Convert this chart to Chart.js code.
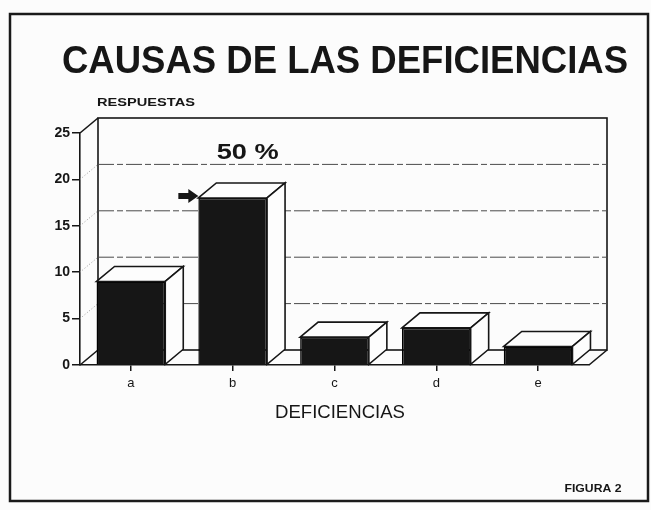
<!DOCTYPE html>
<html>
<head>
<meta charset="utf-8">
<script src="https://cdn.jsdelivr.net/npm/chart.js@4.4.1/dist/chart.umd.min.js"></script>
<style>
  html, body { margin: 0; padding: 0; background: #fcfcfc; }
  #wrap { width: 651px; height: 510px; }
</style>
</head>
<body>
<div id="wrap"><canvas id="chart" width="651" height="510"></canvas></div>
<script>
// datos
var categories = ['a', 'b', 'c', 'd', 'e'];
var responses = [9, 18, 3, 4, 2];
var yTicks = [0, 5, 10, 15, 20, 25];
var highlightText = '50 %';

var FONT = "'Liberation Sans', Arial, Helvetica, sans-serif";
var INK = '#161616';
var DX = 18, DY = -15; // profundidad del efecto 3D

// escribe un texto estirado a un ancho dado (la tipografia del original es mas ancha)
function wideText(ctx, text, cx, y, w) {
  var m = ctx.measureText(text).width;
  ctx.save();
  ctx.translate(cx, y);
  ctx.scale(w / m, 1);
  ctx.textAlign = 'center';
  ctx.fillText(text, 0, 0);
  ctx.restore();
}

function line(ctx, x1, y1, x2, y2) {
  ctx.beginPath();
  ctx.moveTo(x1, y1);
  ctx.lineTo(x2, y2);
  ctx.stroke();
}

var box3d = {
  id: 'box3d',
  beforeDatasetsDraw: function(chart) {
    var ctx = chart.ctx;
    var a = chart.chartArea;
    var ys = chart.scales.y;
    ctx.save();
    ctx.strokeStyle = INK;
    ctx.lineWidth = 1.6;
    // pared del fondo
    var top = ys.getPixelForValue(25);
    var bot = ys.getPixelForValue(0);
    ctx.strokeRect(a.left + DX, top + DY, a.right - a.left, bot - top);
    // aristas laterales
    line(ctx, a.left, top, a.left + DX, top + DY);
    line(ctx, a.left, bot, a.left + DX, bot + DY);
    line(ctx, a.right, bot, a.right + DX, bot + DY);
    // lineas de la cuadricula en el fondo
    yTicks.forEach(function(v) {
      if (v === 0 || v === 25) return;
      var y = ys.getPixelForValue(v);
      ctx.strokeStyle = '#4a4a4a';
      ctx.lineWidth = 1;
      ctx.setLineDash([16, 3, 6, 3]);
      line(ctx, a.left + DX, y + DY, a.right + DX, y + DY);
      ctx.strokeStyle = '#999';
      ctx.setLineDash([1, 2]);
      line(ctx, a.left, y, a.left + DX, y + DY);
    });
    ctx.restore();
  },
  afterDatasetsDraw: function(chart) {
    var ctx = chart.ctx;
    var meta = chart.getDatasetMeta(0);
    ctx.save();
    ctx.strokeStyle = INK;
    ctx.lineWidth = 1.6;
    ctx.fillStyle = '#fdfdfd';
    meta.data.forEach(function(el) {
      var p = el.getProps(['x', 'y', 'base', 'width'], true);
      var l = p.x - p.width / 2, r = p.x + p.width / 2;
      // cara superior
      ctx.beginPath();
      ctx.moveTo(l, p.y);
      ctx.lineTo(l + DX, p.y + DY);
      ctx.lineTo(r + DX, p.y + DY);
      ctx.lineTo(r, p.y);
      ctx.closePath();
      ctx.fill();
      ctx.stroke();
      // cara lateral
      ctx.beginPath();
      ctx.moveTo(r, p.y);
      ctx.lineTo(r + DX, p.y + DY);
      ctx.lineTo(r + DX, p.base + DY);
      ctx.lineTo(r, p.base);
      ctx.closePath();
      ctx.fill();
      ctx.stroke();
    });
    ctx.restore();
  },
  afterDraw: function(chart) {
    var ctx = chart.ctx;
    ctx.save();
    // marco
    ctx.strokeStyle = '#1a1a1a';
    ctx.lineWidth = 2.5;
    ctx.strokeRect(10, 14, 638, 487);
    ctx.fillStyle = INK;
    ctx.textBaseline = 'alphabetic';
    // titulo
    ctx.font = 'bold 38px ' + FONT;
    wideText(ctx, 'CAUSAS DE LAS DEFICIENCIAS', 345, 73, 566);
    // titulo eje y
    ctx.font = 'bold 11px ' + FONT;
    wideText(ctx, 'RESPUESTAS', 146, 106, 98);
    // titulo eje x
    ctx.font = '18px ' + FONT;
    wideText(ctx, 'DEFICIENCIAS', 340, 418, 130);
    // pie
    ctx.font = 'bold 11px ' + FONT;
    wideText(ctx, 'FIGURA 2', 593, 492, 57);
    // anotacion de la barra b
    var bar = chart.getDatasetMeta(0).data[1];
    var b = bar.getProps(['x', 'y', 'width'], true);
    ctx.font = 'bold 22px ' + FONT;
    wideText(ctx, highlightText, b.x + 15, b.y - 39, 62);
    // flecha
    var tipX = b.x - b.width / 2, tipY = b.y - 2;
    ctx.beginPath();
    ctx.moveTo(tipX, tipY);
    ctx.lineTo(tipX - 10, tipY - 7);
    ctx.lineTo(tipX - 10, tipY - 3);
    ctx.lineTo(tipX - 20, tipY - 3);
    ctx.lineTo(tipX - 20, tipY + 3);
    ctx.lineTo(tipX - 10, tipY + 3);
    ctx.lineTo(tipX - 10, tipY + 7);
    ctx.closePath();
    ctx.fill();
    ctx.restore();
  }
};

var ctx = document.getElementById('chart').getContext('2d');
new Chart(ctx, {
  type: 'bar',
  data: {
    labels: categories,
    datasets: [{
      label: 'RESPUESTAS',
      data: responses,
      backgroundColor: INK,
      borderColor: '#000',
      borderWidth: 1.5,
      barPercentage: 0.9,
      categoryPercentage: 0.75
    }]
  },
  options: {
    responsive: false,
    animation: false,
    devicePixelRatio: 1,
    layout: { padding: { left: 0, top: 133, right: 62, bottom: 0 } },
    plugins: {
      legend: { display: false },
      tooltip: { enabled: false }
    },
    scales: {
      x: {
        offset: true,
        grid: { display: true, drawOnChartArea: false, drawTicks: true, tickLength: 6, offset: false, color: INK, lineWidth: 1.5 },
        border: { display: true, color: INK, width: 1.6 },
        ticks: { color: INK, padding: 5, font: { family: FONT, size: 13 } },
        afterFit: function(s) { s.height = 145; }
      },
      y: {
        min: 0,
        max: 25,
        grid: { display: true, drawOnChartArea: false, drawTicks: true, tickLength: 8, color: INK, lineWidth: 1.5 },
        border: { display: true, color: INK, width: 1.6 },
        ticks: { color: INK, padding: 2, font: { family: FONT, size: 14, weight: 'bold' } },
        afterBuildTicks: function(s) { s.ticks = yTicks.map(function(v) { return { value: v }; }); },
        afterFit: function(s) { s.width = 80; }
      }
    }
  },
  plugins: [box3d]
});
</script>
</body>
</html>
